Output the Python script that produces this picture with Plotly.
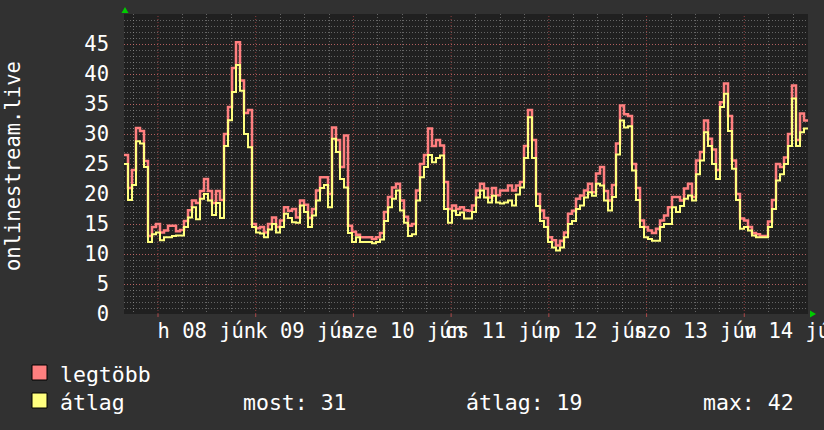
import pandas as pd
import plotly.graph_objects as go

# ---- data, ~hourly samples over 7 days ----
legtobb = [26.5, 21, 24, 31, 30.5, 25.5, 13, 14.5, 15, 13.6, 13.9, 14.7, 14.7, 13.8, 14, 15.5,
           17.3, 18.9, 18.5, 20.5, 22.5, 20.5, 18.5, 20.5, 19, 30, 34.5, 41, 45.3, 38.9, 33.5, 34,
           15, 14.3, 14.5, 13.6, 15, 16.1, 14.5, 15.6, 17.8, 17.2, 17.5, 16.1, 18.9, 18.2, 16, 17.5,
           20.6, 22.8, 22.8, 20, 31.1, 29, 24.5, 29.75, 14.7, 13.7, 13.2, 12.8, 12.8, 12.8, 12.5, 12.8,
           13.5, 17, 19.5, 21.1, 21.7, 18.9, 16.2, 14.7, 15, 20.6, 25, 26.5, 30.9, 28, 29, 28.1,
           22, 17.5, 18.1, 17.5, 17.8, 17.3, 17.2, 18.1, 20.6, 21.7, 20.9, 19.4, 21, 19.8, 20.6, 20.6,
           21.4, 20.6, 21.4, 22, 28, 34, 29, 20, 17.25, 16, 12.8, 12.3, 11.4, 12.2, 13.6, 16.7,
           17.2, 19.2, 19.75, 20.6, 21.7, 20.3, 23.4, 24.5, 20.5, 18.9, 21.5, 28.4, 34.75, 33.3, 33, 25,
           21, 15.6, 14.5, 13.9, 13.5, 14.2, 15.6, 16.4, 17.8, 19.5, 19.5, 18.9, 20.9, 21.7, 19.5, 25.6,
           27, 32.25, 29.2, 27.4, 24, 35.3, 38.4, 33, 25.6, 20, 15.9, 15.6, 14.5, 13.5, 13.3, 13,
           13, 15.4, 19, 25, 24.5, 26.1, 30, 38.1, 29, 33.4, 32.25]
atlag = [25, 19, 21.5, 28.8, 28.4, 24.5, 12, 13.3, 13.6, 12.3, 12.8, 12.8, 13, 13.1, 13.1, 14.5,
         16.1, 17.8, 15.8, 19.2, 20, 18.9, 16.5, 18.5, 16, 28, 32.3, 37, 41.5, 37.2, 30, 27.8,
         14.5, 13.6, 13.4, 12.8, 14.1, 15, 13.6, 14.5, 16.7, 16, 15.3, 15.2, 18.1, 17, 14.5, 16.4,
         18.9, 21, 21.5, 17.8, 29.2, 27, 22.5, 21.1, 13.5, 12, 12.8, 12, 12, 12, 11.8, 12,
         12.4, 15.5, 17.8, 19.2, 20.6, 17.25, 15.2, 13, 13.3, 18.9, 22.8, 24.5, 26.5, 25.3, 26, 26.4,
         17.5, 15.2, 17.2, 16.5, 16.9, 15.9, 15.9, 17, 19.4, 20.6, 19.4, 18.6, 19.7, 18.6, 18.4, 18.6,
         18.9, 18.1, 19.9, 21.1, 26, 32.8, 26, 18, 15.5, 14.5, 12, 11.1, 10.6, 11.1, 12.8, 15,
         15.5, 17.5, 18.1, 19.4, 20.3, 19.7, 21.7, 21.4, 18.9, 17.25, 19.5, 26.6, 32.25, 31.1, 31.3, 23.9,
         19, 14.5, 12.8, 12.5, 12.2, 12.2, 14.5, 15, 15, 17.8, 17, 18, 19.2, 19.75, 18.9, 23.3,
         25.6, 30.3, 28, 25, 22.5, 34.5, 36.7, 30.5, 24.2, 19, 14.2, 14.5, 13.9, 13.1, 12.8, 12.8,
         12.8, 14.5, 17.5, 22.25, 23.3, 25, 28, 35.9, 28, 30.3, 30.9]

day_labels = ["h 08 jún", "k 09 jún", "sze 10 jún", "cs 11 jún", "p 12 jún", "szo 13 jún", "v 14 jún"]
day_dates = ["2020-06-08", "2020-06-09", "2020-06-10", "2020-06-11", "2020-06-12", "2020-06-13", "2020-06-14"]
y_ticks = [0, 5, 10, 15, 20, 25, 30, 35, 40, 45]
legend_stats = ["most: 31", "átlag: 19", "max: 42"]
series_names = ["legtöbb", "átlag"]
y_title = "onlinestream.live"

# ---- geometry / style ----
W, H = 824, 430
L, R, T, B = 124, 16, 14, 116
PW, PH = W - L - R, H - T - B
FONT = "DejaVu Sans Mono"
CANVAS = "#313131"
BACK = "#202020"
RED = "#FF7F7F"
YEL = "#FFFF7F"
GRID = "rgba(170,170,170,0.5)"
MGRID = "rgba(255,90,90,0.5)"

start = pd.Timestamp("2020-06-07 15:39")
end = start + pd.Timedelta(hours=168)
n = len(legtobb)
times = pd.date_range(start, end, periods=n + 1)


def px(xp):
    return (xp - L) / PW


def py(yp):
    return (H - B - yp) / PH


fig = go.Figure()
fig.add_trace(go.Scatter(x=times, y=legtobb + [legtobb[-1]], mode="lines", line=dict(color=RED, width=2.5, shape="hv"),
                         name=series_names[0], showlegend=False))
fig.add_trace(go.Scatter(x=times, y=atlag + [atlag[-1]], mode="lines", line=dict(color=YEL, width=2, shape="hv"),
                         name=series_names[1], showlegend=False))

noons = [pd.Timestamp(d) + pd.Timedelta(hours=12) for d in day_dates]
mids = [pd.Timestamp(d) for d in day_dates]
minor_vals = []
for d in day_dates:
    for hh in (6, 18):
        minor_vals.append(pd.Timestamp(d) + pd.Timedelta(hours=hh))
minor_vals.insert(0, pd.Timestamp(day_dates[0]) - pd.Timedelta(hours=6))

shapes = []
for m in mids:
    shapes.append(dict(type="line", xref="x", yref="paper", x0=m, x1=m, y0=0, y1=1, layer="below",
                       line=dict(color=MGRID, width=1, dash="1px,2px")))
    shapes.append(dict(type="line", xref="x", yref="paper", x0=m, x1=m, y0=0, y1=py(H - B + 3), layer="above",
                       line=dict(color="rgba(255,90,90,0.6)", width=1)))

# legend swatches
for i, c in enumerate([RED, YEL]):
    y0 = 365 + i * 28
    shapes.append(dict(type="rect", xref="paper", yref="paper", x0=px(32), x1=px(47), y0=py(y0), y1=py(y0 + 15),
                       fillcolor=c, line=dict(color="#000000", width=1)))

# green axis arrows
shapes.append(dict(type="path", xref="paper", yref="paper",
                   path=f"M {px(121.5)} {py(13)} L {px(128.5)} {py(13)} L {px(125)} {py(7)} Z",
                   fillcolor="#00CC00", line=dict(width=0)))
shapes.append(dict(type="path", xref="paper", yref="paper",
                   path=f"M {px(810)} {py(310.5)} L {px(810)} {py(317.5)} L {px(816)} {py(314)} Z",
                   fillcolor="#00CC00", line=dict(width=0)))

annotations = [
    dict(text=y_title, x=px(13), y=py(166), xref="paper", yref="paper", textangle=-90, showarrow=False,
         font=dict(family=FONT, size=20.5, color="#FFFFFF"), xanchor="center", yanchor="middle"),
    dict(text=series_names[0], x=px(58), y=py(374), xref="paper", yref="paper", showarrow=False,
         font=dict(family=FONT, size=21.5, color="#FFFFFF"), xanchor="left", yanchor="middle"),
    dict(text=series_names[1], x=px(58), y=py(402), xref="paper", yref="paper", showarrow=False,
         font=dict(family=FONT, size=21.5, color="#FFFFFF"), xanchor="left", yanchor="middle"),
]
for xs, t in zip([241, 464, 701], legend_stats):
    annotations.append(dict(text=t, x=px(xs), y=py(402), xref="paper", yref="paper", showarrow=False,
                            font=dict(family=FONT, size=21.5, color="#FFFFFF"), xanchor="left", yanchor="middle"))

fig.update_layout(
    template="none",
    width=W, height=H,
    margin=dict(l=L, r=R, t=T, b=B, pad=0),
    paper_bgcolor=CANVAS, plot_bgcolor=BACK,
    showlegend=False,
    shapes=shapes, annotations=annotations,
    font=dict(family=FONT, color="#FFFFFF", size=20.5),
)
fig.update_xaxes(
    type="date", range=[start, end], automargin=False,
    tickmode="array", tickvals=noons, ticktext=day_labels, tickangle=0,
    ticklabeloverflow="allow", ticks="", ticklabelstandoff=2,
    tickfont=dict(family=FONT, size=20.5, color="#FFFFFF"),
    showgrid=True, gridcolor=GRID, gridwidth=1, griddash="1px,2px",
    minor=dict(tickmode="array", tickvals=minor_vals, showgrid=True, gridcolor=GRID,
               gridwidth=1, griddash="1px,2px", ticks=""),
    showline=False, zeroline=False,
)
fig.update_yaxes(
    range=[0, 50], automargin=False,
    tickmode="array", tickvals=y_ticks, ticks="", ticklabelstandoff=14,
    tickfont=dict(family=FONT, size=20.5, color="#FFFFFF"),
    showgrid=True, gridcolor=MGRID, gridwidth=1, griddash="1px,2px",
    minor=dict(dtick=1, showgrid=True, gridcolor=GRID, gridwidth=1, griddash="1px,2px", ticks=""),
    showline=False, zeroline=False,
)

fig.write_html("out.html")
